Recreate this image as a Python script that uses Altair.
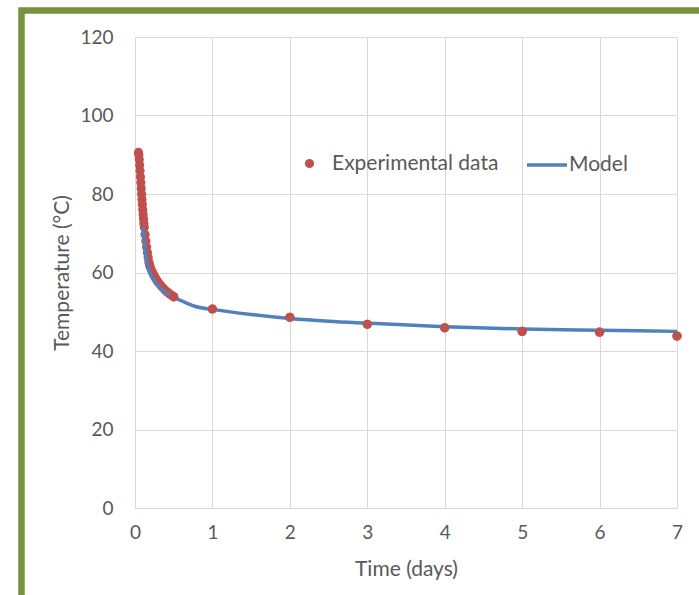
import altair as alt
import pandas as pd

# Measured temperatures (early dense readings, then daily readings)
exp_time = [0.045, 0.05, 0.055, 0.06, 0.065, 0.07, 0.075, 0.08, 0.085, 0.09,
            0.095, 0.10, 0.105, 0.11, 0.115, 0.12, 0.13, 0.14, 0.15, 0.16,
            0.17, 0.18, 0.19, 0.20, 0.22, 0.24, 0.26, 0.28, 0.30, 0.33,
            0.36, 0.39, 0.42, 0.45, 0.48, 0.50,
            1, 2, 3, 4, 5, 6, 7]
exp_temp = [90.6, 90.0, 88.8, 87.4, 85.9, 84.4, 82.9, 81.4, 80.0, 78.6,
            77.3, 76.0, 74.8, 73.6, 72.5, 71.5, 69.7, 68.0, 66.5, 65.1,
            63.8, 62.6, 61.8, 61.2, 60.3, 59.5, 58.8, 58.1, 57.5, 56.8,
            56.1, 55.5, 55.0, 54.5, 54.1, 53.8,
            50.7, 48.6, 46.8, 45.9, 45.0, 44.8, 43.8]

# Model prediction
model_time = [0.10, 0.12, 0.14, 0.16, 0.19, 0.25, 0.30, 0.40, 0.50, 0.60,
              0.77, 1.0, 1.5, 2.0, 2.5, 3.0, 4.0, 5.0, 6.0, 7.0]
model_temp = [71.5, 67.5, 64.3, 62.2, 60.0, 57.8, 56.5, 54.8, 53.7, 52.8,
              51.4, 50.6, 49.3, 48.3, 47.6, 47.1, 46.2, 45.6, 45.3, 45.0]

x_ticks = [0, 1, 2, 3, 4, 5, 6, 7]
y_ticks = [0, 20, 40, 60, 80, 100, 120]

exp_df = pd.DataFrame({"t": exp_time, "T": exp_temp, "series": "Experimental data"})
model_df = pd.DataFrame({"t": model_time, "T": model_temp, "series": "Model"})

FONT = "Lato"
GREY = "#595959"
RED = "#C0504D"
BLUE = "#4F81BD"
PT_SIZE = 85

x_enc = alt.X("t:Q", title="Time (days)",
              scale=alt.Scale(domain=[0, 7], nice=False),
              axis=alt.Axis(values=x_ticks, format="d", labelFlush=False))
y_enc = alt.Y("T:Q", title="Temperature (°C)",
              scale=alt.Scale(domain=[0, 120], nice=False),
              axis=alt.Axis(values=y_ticks, format="d"))

model_line = alt.Chart(model_df).mark_line(strokeWidth=3.5, interpolate="monotone").encode(
    x=x_enc, y=y_enc,
    stroke=alt.Stroke("series:N",
                      scale=alt.Scale(domain=["Model"], range=[BLUE]),
                      legend=alt.Legend(title=None, orient="none", legendX=390, legendY=106,
                                        symbolType="stroke", symbolSize=1600,
                                        symbolStrokeWidth=3.5, labelOffset=0,
                                        labelFontSize=21, labelFont=FONT,
                                        labelColor=GREY, labelLimit=300, padding=0)),
)

# Dense early readings sit under the model curve
exp_points = alt.Chart(exp_df).mark_circle(size=PT_SIZE, opacity=1).encode(
    x=x_enc, y=y_enc,
    fill=alt.Fill("series:N",
                  scale=alt.Scale(domain=["Experimental data"], range=[RED]),
                  legend=alt.Legend(title=None, orient="none", legendX=164, legendY=116,
                                    symbolType="circle", symbolSize=PT_SIZE,
                                    symbolStrokeWidth=0, labelOffset=12,
                                    labelFontSize=21, labelFont=FONT,
                                    labelColor=GREY, labelLimit=300, padding=0)),
)

# Later readings drawn over the curve
late_points = alt.Chart(exp_df).transform_filter(
    alt.datum.t >= 0.5
).mark_circle(size=PT_SIZE, opacity=1, color=RED).encode(x=x_enc, y=y_enc)

# Olive outer frame around the figure
frame = alt.Chart(alt.Data(values=[{"k": 1}])).mark_rect(
    fill="transparent", stroke="#76923C", strokeWidth=6.5
).encode(
    x=alt.value(21.5 - 135), x2=alt.value(740 - 135),
    y=alt.value(10.5 - 37), y2=alt.value(640 - 37),
)

chart = alt.layer(frame, exp_points, model_line, late_points).resolve_scale(
    fill="independent", stroke="independent"
).properties(
    width=542, height=471,
    autosize=alt.AutoSizeParams(type="none"),
    padding={"left": 135, "top": 37, "right": 22, "bottom": 87},
    background="white",
).configure_view(
    stroke=None
).configure_axis(
    grid=True, gridColor="#D9D9D9", gridWidth=1,
    domainColor="#D9D9D9", domainWidth=1,
    ticks=False,
    labelFont=FONT, labelFontSize=19, labelColor=GREY,
    titleFont=FONT, titleFontSize=21, titleColor=GREY, titleFontWeight="normal",
).configure_axisX(
    labelPadding=15, titlePadding=16,
).configure_axisY(
    labelPadding=22, titlePadding=7,
)

chart.save("out.html", embed_options={"renderer": "svg", "actions": False})
